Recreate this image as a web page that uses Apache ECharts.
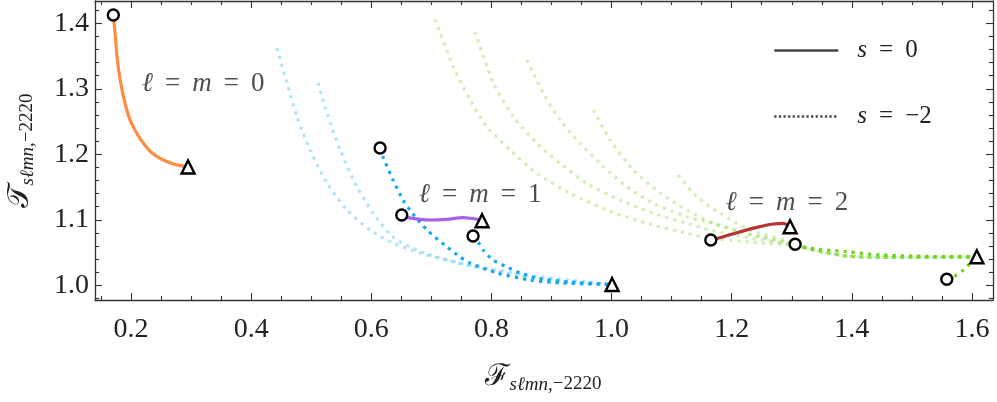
<!DOCTYPE html>
<html>
<head>
<meta charset="utf-8">
<script src="https://cdn.jsdelivr.net/npm/echarts@6/dist/echarts.min.js"></script>
<style>html,body{margin:0;padding:0;background:#fff}#c{width:997px;height:402px}</style>
</head>
<body>
<div id="c"></div>
<script>
// ---------- ticks ----------
const xTicks = [0.2, 0.4, 0.6, 0.8, 1.0, 1.2, 1.4, 1.6];
const xMinor = [0.15, 0.25, 0.3, 0.35, 0.45, 0.5, 0.55, 0.65, 0.7, 0.75, 0.85, 0.9, 0.95, 1.05, 1.1, 1.15, 1.25, 1.3, 1.35, 1.45, 1.5, 1.55];
const yTicks = [1.0, 1.1, 1.2, 1.3, 1.4];
const yMinor = [0.98, 1.02, 1.04, 1.06, 1.08, 1.12, 1.14, 1.16, 1.18, 1.22, 1.24, 1.26, 1.28, 1.32, 1.34, 1.36, 1.38, 1.42];

// ---------- l = m = 0, s = 0 ----------
const l0s0X = [0.1705, 0.1734, 0.1772, 0.1829, 0.1900, 0.1983, 0.2095, 0.2205, 0.2345, 0.2511, 0.2704, 0.2927];
const l0s0Y = [1.4127, 1.3847, 1.3440, 1.3084, 1.2779, 1.2524, 1.2321, 1.2168, 1.2024, 1.1924, 1.1852, 1.1811];

// ---------- l = m = 1 ----------
const l1s0X = [0.6507, 0.6595, 0.6978, 0.7261, 0.7528, 0.7761, 0.7844];
const l1s0Y = [1.1073, 1.1038, 1.0997, 1.1008, 1.1032, 1.1008, 1.0986];
const l1s2aX = [0.6146, 0.6196, 0.6362, 0.6529, 0.6679, 0.6928, 0.7261, 0.7478, 0.7644, 0.8094, 0.8643, 0.9193, 1.0009];
const l1s2aY = [1.2096, 1.1959, 1.1608, 1.1302, 1.1104, 1.0844, 1.0585, 1.0432, 1.0341, 1.0188, 1.0081, 1.0035, 1.0012];
const l1s2bX = [0.7694, 0.7778, 0.7861, 0.8027, 0.8260, 0.8477, 0.8760, 0.9310, 1.0009];
const l1s2bY = [1.0753, 1.0661, 1.0539, 1.0386, 1.0280, 1.0188, 1.0111, 1.0050, 1.0012];
const l1fadeAX = [0.4431, 0.4597, 0.4764, 0.498, 0.5263, 0.5597, 0.5979, 0.6362, 0.6812, 0.7261, 0.7644, 0.826, 0.881, 0.936, 1.0009];
const l1fadeAY = [1.3623, 1.3089, 1.2569, 1.2066, 1.1562, 1.1150, 1.0844, 1.0646, 1.0493, 1.0386, 1.0295, 1.0188, 1.0096, 1.005, 1.0012];
const l1fadeBX = [0.5114, 0.5263, 0.548, 0.5763, 0.603, 0.6362, 0.6762, 0.7145, 0.7478, 0.7977, 0.8477, 0.9143, 1.0009];
const l1fadeBY = [1.3089, 1.2629, 1.2066, 1.1501, 1.1104, 1.0737, 1.0539, 1.0417, 1.0341, 1.0249, 1.0173, 1.0096, 1.0012];

// ---------- l = m = 2 ----------
const l2s0X = [1.1652, 1.1862, 1.214, 1.2418, 1.2694, 1.2861, 1.2955];
const l2s0Y = [1.0692, 1.0742, 1.0818, 1.0885, 1.0936, 1.0947, 1.091];
const l2s2aX = [1.3056, 1.3139, 1.3472, 1.3916, 1.4471, 1.5020, 1.5581, 1.6081];
const l2s2aY = [1.0626, 1.0589, 1.055, 1.0513, 1.0463, 1.0447, 1.0437, 1.0437];
const l2s2bX = [1.5581, 1.5691, 1.5858, 1.5969, 1.6081];
const l2s2bY = [1.0092, 1.0131, 1.0234, 1.0336, 1.0437];
const l2fade1X = [0.7062, 0.7366, 0.7644, 0.7922, 0.8310, 0.8755, 0.9309, 0.9921, 1.0587, 1.1252, 1.164, 1.2306, 1.3056, 1.3356, 1.3916, 1.4471, 1.502, 1.6081];
const l2fade1Y = [1.4061, 1.3337, 1.2829, 1.2421, 1.2066, 1.171, 1.1405, 1.115, 1.0947, 1.0794, 1.0722, 1.0661, 1.06, 1.0539, 1.0447, 1.0427, 1.0427, 1.0432];
const l2fade2X = [0.7728, 0.8032, 0.8365, 0.8755, 0.9143, 0.9587, 1.0142, 1.0696, 1.1252, 1.164, 1.2306, 1.3056, 1.3356, 1.3916, 1.4471, 1.502, 1.6081];
const l2fade2Y = [1.3872, 1.3084, 1.2574, 1.2168, 1.1863, 1.1557, 1.1302, 1.1099, 1.0947, 1.0844, 1.0722, 1.0615, 1.0539, 1.0447, 1.0427, 1.0427, 1.0432];
const l2fade3X = [0.8588, 0.8865, 0.9143, 0.9476, 0.9864, 1.0253, 1.0696, 1.1252, 1.169, 1.2306, 1.3056, 1.3356, 1.3916, 1.4471, 1.502, 1.6081];
const l2fade3Y = [1.344, 1.2931, 1.2524, 1.2168, 1.1811, 1.1505, 1.1252, 1.1047, 1.0947, 1.0783, 1.0631, 1.0539, 1.0447, 1.0427, 1.0427, 1.0432];
const l2fade4X = [0.9697, 0.9975, 1.0363, 1.0808, 1.1252, 1.169, 1.2306, 1.3056, 1.3356, 1.3916, 1.4471, 1.502, 1.6081];
const l2fade4Y = [1.2676, 1.2218, 1.176, 1.1405, 1.115, 1.0947, 1.0768, 1.0615, 1.0539, 1.0447, 1.0427, 1.0427, 1.0432];
const l2fade5X = [1.1113, 1.1363, 1.164, 1.1807, 1.2306, 1.3056, 1.3356, 1.3916, 1.4471, 1.502, 1.6081];
const l2fade5Y = [1.1684, 1.1405, 1.12, 1.1099, 1.0844, 1.0646, 1.0539, 1.0447, 1.0427, 1.0427, 1.0432];

// ---------- endpoint markers ----------
const circleX = [0.1705, 0.6146, 0.6507, 0.7694, 1.1652, 1.3056, 1.5581];
const circleY = [1.4127, 1.2096, 1.1073, 1.0753, 1.0692, 1.0626, 1.0092];
const triX = [0.2949, 0.7844, 1.0009, 1.2972, 1.6081];
const triY = [1.1806, 1.0986, 1.0012, 1.0895, 1.0437];

// ---------- annotations ----------
const annoX = [0.320, 0.781, 1.292];
const annoY = [1.3073, 1.1379, 1.1256];
const annoVal = ['0', '1', '2'];

const XMIN = 0.14, XMAX = 1.635, YMIN = 0.9776, YMAX = 1.434;
const SERIF = "'Liberation Serif', 'DejaVu Serif', serif";
const AX = '#333';
const TXT = '#222';

const zip = (xs, ys) => xs.map((x, i) => [x, ys[i]]);

const BLUE = '#13a9ee', BLUE_F = 'rgba(19,169,238,0.33)';
const GREEN = '#6fd21e', GREEN_F = 'rgba(111,210,30,0.33)';
const DOT = [3.2, 5.0];

function curve(xs, ys, color, dotted, width) {
  return {
    type: 'line', data: zip(xs, ys), showSymbol: false, symbol: 'none', smooth: 0.25,
    xAxisIndex: 0, yAxisIndex: 0, silent: true, z: dotted ? 2 : 3,
    lineStyle: { color, width: width || 3.2, type: dotted ? DOT : 'solid', cap: 'butt' }
  };
}

function xAx(pos, ticks, len, showLine, labels) {
  return {
    type: 'value', position: pos, min: XMIN, max: XMAX, gridIndex: 0,
    splitLine: { show: false },
    axisLine: { show: showLine, onZero: false, lineStyle: { color: AX, width: 1.3 } },
    axisTick: { show: true, inside: true, length: len, customValues: ticks, lineStyle: { color: AX, width: 1.1 } },
    axisLabel: labels ? { show: true, customValues: ticks, formatter: v => v.toFixed(1), fontFamily: SERIF, fontSize: 28, color: TXT, margin: 16 } : { show: false }
  };
}
function yAx(pos, ticks, len, showLine, labels) {
  return {
    type: 'value', position: pos, min: YMIN, max: YMAX, gridIndex: 0,
    splitLine: { show: false },
    axisLine: { show: showLine, onZero: false, lineStyle: { color: AX, width: 1.3 } },
    axisTick: { show: true, inside: true, length: len, customValues: ticks, lineStyle: { color: AX, width: 1.1 } },
    axisLabel: labels ? { show: true, customValues: ticks, formatter: v => v.toFixed(1), fontFamily: SERIF, fontSize: 28, color: TXT, margin: 6 } : { show: false }
  };
}

const annoRich = {
  i: { fontFamily: SERIF, fontStyle: 'italic', fontSize: 27, color: TXT },
  r: { fontFamily: SERIF, fontSize: 27, color: TXT },
  e: { fontFamily: SERIF, fontSize: 27, color: TXT, padding: [0, 12, 0, 12] }
};
const legRich = {
  i: { fontFamily: SERIF, fontStyle: 'italic', fontSize: 25, color: TXT },
  r: { fontFamily: SERIF, fontSize: 25, color: TXT },
  e: { fontFamily: SERIF, fontSize: 25, color: TXT, padding: [0, 12, 0, 12] },
  sp: { width: 14 }
};
const nameRich = {
  F: { fontFamily: SERIF, fontSize: 30, fill: TXT, lineHeight: 34 },
  s: { fontFamily: SERIF, fontStyle: 'italic', fontSize: 19, fill: TXT, lineHeight: 34, verticalAlign: 'bottom' },
  n: { fontFamily: SERIF, fontSize: 19, fill: TXT, lineHeight: 34, verticalAlign: 'bottom' }
};

const chart = echarts.init(document.getElementById('c'));
chart.setOption({
  animation: false,
  backgroundColor: '#fff',
  grid: { left: 95, right: 4, top: 1, bottom: 102, containLabel: false },
  xAxis: [xAx('bottom', xTicks, 7, true, true), xAx('bottom', xMinor, 4, false, false), xAx('top', xTicks, 7, true, false), xAx('top', xMinor, 4, false, false)],
  yAxis: [yAx('left', yTicks, 7, true, true), yAx('left', yMinor, 4, false, false), yAx('right', yTicks, 7, true, false), yAx('right', yMinor, 4, false, false)],
  legend: {
    orient: 'vertical', left: 773, top: 38, itemWidth: 64, itemHeight: 22, itemGap: 41, padding: 0,
    selectedMode: false,
    data: ['s0', 's2'],
    lineStyle: { width: 2.6 },
    itemStyle: { opacity: 0, borderWidth: 0, color: 'rgba(0,0,0,0)' },
    formatter: n => n === 's0' ? '{sp|}{i|s}{e|=}{r|0}' : '{sp|}{i|s}{e|=}{r|−2}',
    textStyle: { rich: legRich, fontSize: 25 }
  },
  series: [
    { name: 's0', type: 'line', data: [], symbol: 'none', color: '#444', lineStyle: { color: '#444', width: 2.6, type: 'solid' } },
    { name: 's2', type: 'line', data: [], symbol: 'none', color: '#444', lineStyle: { color: '#444', width: 2.4, type: [2.2, 2.4] } },
    curve(l1fadeAX, l1fadeAY, BLUE_F, true),
    curve(l1fadeBX, l1fadeBY, BLUE_F, true),
    curve(l2fade1X, l2fade1Y, GREEN_F, true),
    curve(l2fade2X, l2fade2Y, GREEN_F, true),
    curve(l2fade3X, l2fade3Y, GREEN_F, true),
    curve(l2fade4X, l2fade4Y, GREEN_F, true),
    curve(l2fade5X, l2fade5Y, GREEN_F, true),
    curve(l1s2aX, l1s2aY, BLUE, true),
    curve(l1s2bX, l1s2bY, BLUE, true),
    curve(l2s2aX, l2s2aY, GREEN, true),
    curve(l2s2bX, l2s2bY, GREEN, true),
    curve(l0s0X, l0s0Y, '#ff8c40', false),
    curve(l1s0X, l1s0Y, '#a462e4', false),
    curve(l2s0X, l2s0Y, '#b73232', false),
    {
      type: 'scatter', data: zip(circleX, circleY), symbol: 'circle', symbolSize: 11, z: 10, silent: true,
      itemStyle: { color: '#fff', borderColor: '#000', borderWidth: 2.4, opacity: 1 }
    },
    {
      type: 'scatter', data: zip(triX, triY), symbol: 'triangle', symbolSize: 13, z: 10, silent: true,
      itemStyle: { color: '#fff', borderColor: '#000', borderWidth: 2.4, opacity: 1 }
    },
    {
      type: 'scatter', data: annoX.map((x, i) => [x, annoY[i], annoVal[i]]), symbolSize: 0, silent: true, z: 5,
      label: {
        show: true, position: 'inside',
        formatter: p => '{i|ℓ}{e|=}{i|m}{e|=}{r|' + p.data[2] + '}',
        rich: annoRich
      }
    }
  ],
  graphic: [
    {
      type: 'text', x: 543, y: 377, silent: true,
      style: { text: '{F|ℱ}{s|sℓmn,}{n|−2220}', align: 'center', verticalAlign: 'middle', rich: nameRich }
    },
    {
      type: 'text', x: 20, y: 151, rotation: Math.PI / 2, silent: true,
      style: { text: '{F|𝒯}{s|sℓmn,}{n|−2220}', align: 'center', verticalAlign: 'middle', rich: nameRich }
    }
  ]
});
</script>
</body>
</html>
